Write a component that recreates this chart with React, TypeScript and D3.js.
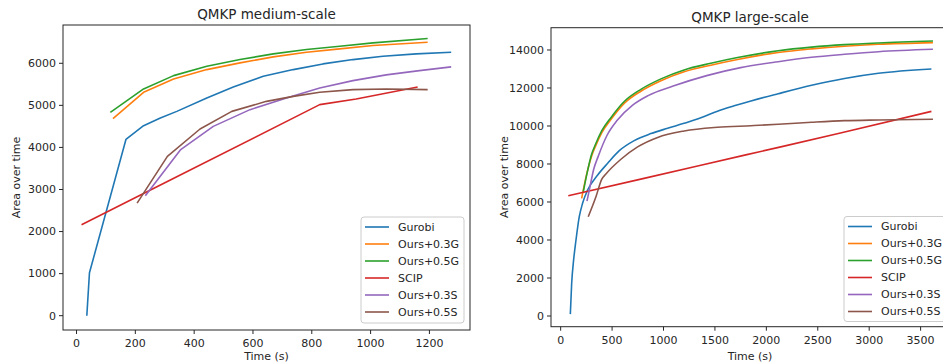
import React from 'react';
import * as d3 from 'd3';

// series labels / colours (matplotlib tab10)
const seriesNames = ['Gurobi', 'Ours+0.3G', 'Ours+0.5G', 'SCIP', 'Ours+0.3S', 'Ours+0.5S'];
const seriesColors = ['#1f77b4', '#ff7f0e', '#2ca02c', '#d62728', '#9467bd', '#8c564b'];

// --- medium-scale, [time, area]
const medGurobi = [[35, 0], [44, 1020], [168, 4190], [228, 4517], [285, 4700], [341, 4857], [443, 5176], [533, 5438], [635, 5690], [737, 5850], [838, 5985], [940, 6088], [1042, 6167], [1155, 6224], [1274, 6262]];
const medOurs03G = [[124, 4683], [228, 5310], [330, 5628], [443, 5850], [556, 6009], [669, 6152], [782, 6262], [895, 6342], [1008, 6421], [1194, 6500]];
const medOurs05G = [[115, 4833], [228, 5390], [330, 5707], [443, 5929], [556, 6088], [669, 6224], [782, 6326], [895, 6405], [1008, 6486], [1194, 6588]];
const medSCIP = [[17, 2160], [319, 3226], [827, 5017], [951, 5152], [1160, 5438]];
const medOurs03S = [[234, 2850], [353, 3940], [465, 4500], [590, 4898], [714, 5176], [827, 5414], [940, 5588], [1053, 5724], [1166, 5826], [1274, 5914]];
const medOurs05S = [[206, 2676], [309, 3786], [420, 4438], [528, 4857], [646, 5095], [737, 5214], [827, 5310], [940, 5374], [1053, 5390], [1194, 5374]];

// --- large-scale, [time, area]
const lrgGurobi = [[94, 100], [107, 1720], [126, 2950], [149, 4000], [181, 5226], [213, 5930], [262, 6630], [360, 7420], [457, 8037], [570, 8700], [715, 9230], [878, 9600], [1040, 9880], [1200, 10142], [1363, 10430], [1525, 10780], [1687, 11060], [1850, 11320], [2115, 11700], [2440, 12140], [2760, 12500], [3090, 12774], [3605, 13000]];
const lrgOurs03G = [[204, 6193], [250, 7400], [300, 8400], [340, 8950], [400, 9650], [490, 10350], [620, 11200], [780, 11830], [975, 12380], [1200, 12850], [1460, 13200], [1720, 13500], [2115, 13870], [2440, 14060], [2760, 14200], [3090, 14300], [3620, 14390]];
const lrgOurs05G = [[220, 6540], [260, 7600], [300, 8500], [340, 9050], [400, 9750], [490, 10450], [620, 11300], [780, 11930], [975, 12480], [1200, 12950], [1460, 13300], [1720, 13600], [2115, 13960], [2440, 14150], [2760, 14280], [3090, 14370], [3620, 14470]];
const lrgSCIP = [[74, 6330], [800, 7230], [1800, 8480], [2700, 9600], [3605, 10770]];
const lrgOurs03S = [[256, 6050], [285, 6800], [320, 7700], [365, 8400], [450, 9500], [550, 10300], [700, 11100], [850, 11600], [1094, 12100], [1420, 12650], [1750, 13070], [2115, 13384], [2440, 13616], [2760, 13774], [3090, 13911], [3620, 14037]];
const lrgOurs05S = [[268, 5226], [343, 6279], [400, 7200], [440, 7474], [586, 8250], [748, 8900], [943, 9400], [1201, 9737], [1525, 9930], [1850, 10016], [2115, 10090], [2440, 10195], [2760, 10280], [3090, 10316], [3620, 10353]];

// tick labels
const medXTicks = [0, 200, 400, 600, 800, 1000, 1200];
const medYTicks = [0, 1000, 2000, 3000, 4000, 5000, 6000];
const lrgXTicks = [0, 500, 1000, 1500, 2000, 2500, 3000, 3500];
const lrgYTicks = [0, 2000, 4000, 6000, 8000, 10000, 12000, 14000];

const FONT = 'DejaVu Sans, sans-serif';
const INK = '#262626';

type Pt = number[];

interface PanelProps {
  title: string;
  series: Pt[][];
  xDomain: [number, number];
  yDomain: [number, number];
  xTicks: number[];
  yTicks: number[];
  box: { x0: number; x1: number; y0: number; y1: number };
  legend: { x: number; y: number; w: number; h: number };
  curve: d3.CurveFactory;
}

const Panel = ({ title, series, xDomain, yDomain, xTicks, yTicks, box, legend, curve }: PanelProps) => {
  const x = d3.scaleLinear().domain(xDomain).range([box.x0, box.x1]);
  const y = d3.scaleLinear().domain(yDomain).range([box.y1, box.y0]);
  const line = d3.line<Pt>().x(d => x(d[0])).y(d => y(d[1])).curve(curve);
  const cx = (box.x0 + box.x1) / 2;
  const cy = (box.y0 + box.y1) / 2;
  const clipId = `clip-${title.replace(/\s+/g, '-')}`;

  return (
    <g>
      <defs>
        <clipPath id={clipId}>
          <rect x={box.x0} y={box.y0} width={box.x1 - box.x0} height={box.y1 - box.y0} />
        </clipPath>
      </defs>
      <text x={cx} y={box.y0 - 6} textAnchor="middle" fontSize={13.5} fill={INK}>{title}</text>

      <g clipPath={`url(#${clipId})`}>
        {series.map((s, i) => (
          <path key={i} d={line(s) || ''} fill="none" stroke={seriesColors[i]} strokeWidth={1.6} strokeLinejoin="round" />
        ))}
      </g>

      <rect x={box.x0} y={box.y0} width={box.x1 - box.x0} height={box.y1 - box.y0} fill="none" stroke={INK} strokeWidth={1} />

      {xTicks.map(t => (
        <g key={`x${t}`} transform={`translate(${x(t)},${box.y1})`}>
          <line y2={4} stroke={INK} />
          <text y={17} textAnchor="middle" fontSize={11} fill={INK}>{t}</text>
        </g>
      ))}
      {yTicks.map(t => (
        <g key={`y${t}`} transform={`translate(${box.x0},${y(t)})`}>
          <line x2={-4} stroke={INK} />
          <text x={-7} dy="0.35em" textAnchor="end" fontSize={11} fill={INK}>{t}</text>
        </g>
      ))}

      <text x={cx} y={360} textAnchor="middle" fontSize={11} fill={INK}>Time (s)</text>
      <text transform={`translate(${box.x0 - 43},${cy}) rotate(-90)`} textAnchor="middle" fontSize={11} fill={INK}>Area over time</text>

      <g transform={`translate(${legend.x},${legend.y})`}>
        <rect width={legend.w} height={legend.h} rx={3} fill="white" fillOpacity={0.8} stroke="#cccccc" />
        {seriesNames.map((n, i) => (
          <g key={n} transform={`translate(0,${10 + i * 17})`}>
            <line x1={4} x2={28} stroke={seriesColors[i]} strokeWidth={1.6} />
            <text x={37} dy="0.35em" fontSize={11} fill={INK}>{n}</text>
          </g>
        ))}
      </g>
    </g>
  );
};

export default function App() {
  return (
    <svg width={943} height={364} style={{ position: 'absolute', left: 0, top: 0, fontFamily: FONT, background: 'white' }}>
      <Panel
        title="QMKP medium-scale"
        series={[medGurobi, medOurs03G, medOurs05G, medSCIP, medOurs03S, medOurs05S]}
        xDomain={[-46, 1338]}
        yDomain={[-340, 6910]}
        xTicks={medXTicks}
        yTicks={medYTicks}
        box={{ x0: 63, x1: 470, y0: 25, y1: 330 }}
        legend={{ x: 361, y: 217, w: 103, h: 106 }}
        curve={d3.curveLinear}
      />
      <Panel
        title="QMKP large-scale"
        series={[lrgGurobi, lrgOurs03G, lrgOurs05G, lrgSCIP, lrgOurs03S, lrgOurs05S]}
        xDomain={[-94, 3776]}
        yDomain={[-563, 15173]}
        xTicks={lrgXTicks}
        yTicks={lrgYTicks}
        box={{ x0: 551, x1: 949, y0: 27.7, y1: 326.7 }}
        legend={{ x: 844, y: 216.5, w: 103, h: 105 }}
        curve={d3.curveMonotoneX}
      />
    </svg>
  );
}
